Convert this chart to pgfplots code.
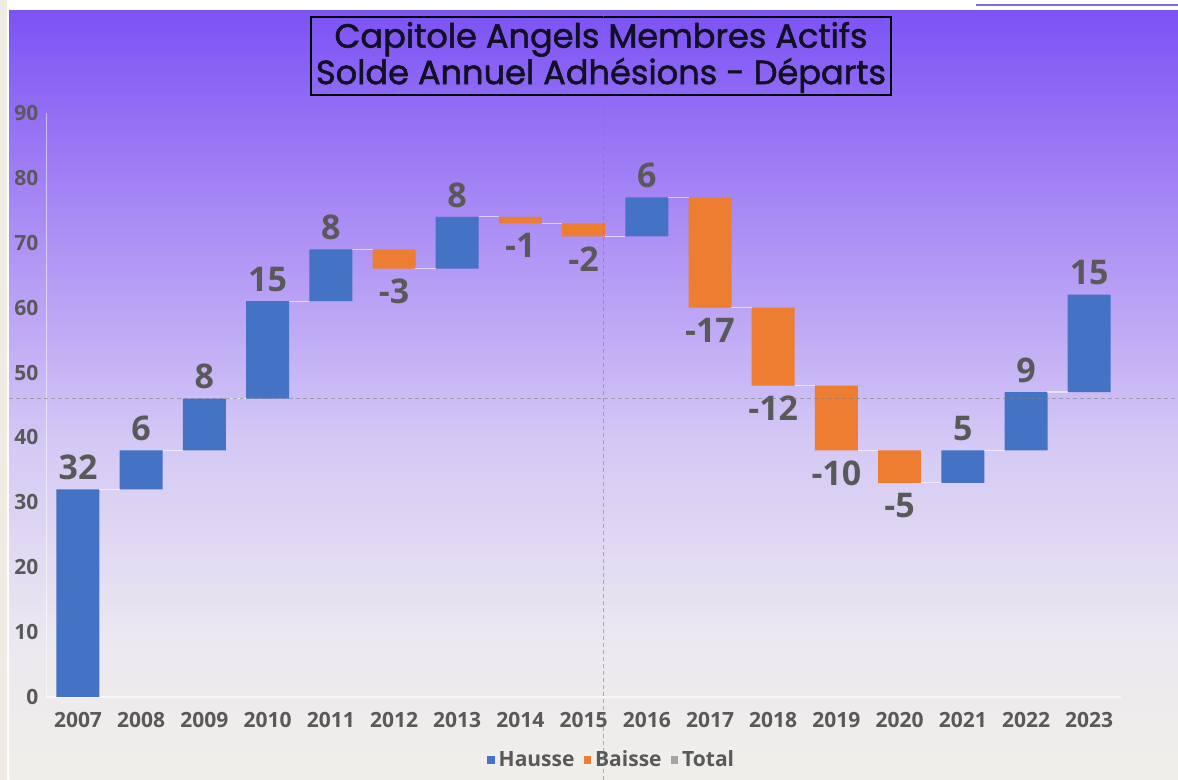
\documentclass[border=0pt]{standalone}
\usepackage{fontspec}
\setmainfont{Open Sans}
\newfontfamily\titlefont{Poppins}[FakeBold=1.6]
\usepackage{pgfplots}
\pgfplotsset{compat=1.18}
\definecolor{cblue}{RGB}{68,114,196}
\definecolor{corange}{RGB}{237,125,49}
\definecolor{cgray}{RGB}{165,165,165}
\definecolor{ctext}{RGB}{89,89,89}
\definecolor{cbeige}{RGB}{240,236,228}
\definecolor{ctitle}{RGB}{18,16,36}
\pgfdeclareverticalshading{bgshade}{585pt}{%
 rgb(0pt)=(0.941,0.933,0.918);
 rgb(10pt)=(0.941,0.933,0.918);
 rgb(70pt)=(0.925,0.910,0.941);
 rgb(170pt)=(0.831,0.784,0.961);
 rgb(280pt)=(0.667,0.549,0.961);
 rgb(370pt)=(0.510,0.353,0.961);
 rgb(385pt)=(0.490,0.322,0.961)}

\pgfplotstableread{
x base up down
0 0 32 0
1 32 6 0
2 38 8 0
3 46 15 0
4 61 8 0
5 66 0 3
6 66 8 0
7 73 0 1
8 71 0 2
9 71 6 0
10 60 0 17
11 48 0 12
12 38 0 10
13 33 0 5
14 33 5 0
15 38 9 0
16 47 15 0
}\wfdata

\pgfplotstableread{
x y lab
0 32 32
1 38 6
2 46 8
3 61 15
4 69 8
6 74 8
9 77 6
14 38 5
15 47 9
16 62 15
}\poslab

\pgfplotstableread{
x y lab
5 66 -3
7 73 -1
8 71 -2
10 60 -17
11 48 -12
12 38 -10
13 33 -5
}\neglab

\pgfplotsset{sqleg/.style={legend image code/.code={\fill[##1] (0pt,-1.9pt) rectangle (3.8pt,1.9pt);}}}

\begin{document}
\begin{tikzpicture}
\useasboundingbox (0,0) rectangle (589pt,390pt);
\fill[white] (0,0) rectangle (589pt,390pt);
\fill[cbeige] (0,0) rectangle (3.6pt,390pt);
\node[inner sep=0pt, anchor=south west] at (4.5pt,0pt) {\pgfuseshading{bgshade}};
\draw[line width=1.2pt, color={rgb,255:red,120;green,110;blue,235}] (488pt,387.6pt) -- (589pt,387.6pt);

\begin{axis}[
  at={(23.2pt,41.5pt)}, anchor=south west,
  scale only axis, width=537.2pt, height=292pt,
  xmin=-0.5, xmax=16.5, ymin=0, ymax=90,
  axis lines*=left,
  axis line style={draw=white, opacity=0.55, line width=0.6pt},
  xtick={0,...,16},
  xticklabels={2007,2008,2009,2010,2011,2012,2013,2014,2015,2016,2017,2018,2019,2020,2021,2022,2023},
  ytick={0,10,...,90},
  /pgf/number format/assume math mode=true,
  major tick length=0pt,
  tick style={draw=none},
  ticklabel style={font=\fontsize{10.5}{12}\selectfont\bfseries, text=ctext},
  xticklabel style={yshift=-4.3pt},
  yticklabel style={xshift=-0.5pt},
  legend style={at={(0.527,-0.108)}, anchor=center, draw=none, fill=none,
    legend columns=3, font=\fontsize{10.5}{12}\selectfont\bfseries, text=ctext,
    /tikz/every even column/.append style={column sep=2.5pt},
    legend cell align=left, inner sep=0pt},
  clip=false,
]
\addplot[ybar stacked, bar width=21.5pt, draw=none, fill=none, forget plot] table[x=x,y=base]{\wfdata};
\addplot[ybar stacked, bar width=21.5pt, draw=none, fill=cblue, sqleg] table[x=x,y=up]{\wfdata};
\addlegendentry{Hausse}
\addplot[ybar stacked, bar width=21.5pt, draw=none, fill=corange, sqleg] table[x=x,y=down]{\wfdata};
\addlegendentry{Baisse}
\addlegendimage{fill=cgray, draw=none, sqleg}
\addlegendentry{Total}

\addplot[forget plot, sharp plot, mark=none, draw=white, opacity=0.6, line width=0.6pt, unbounded coords=jump] coordinates {
(0.34,32) (0.66,32) (nan,nan)
(1.34,38) (1.66,38) (nan,nan)
(2.34,46) (2.66,46) (nan,nan)
(3.34,61) (3.66,61) (nan,nan)
(4.34,69) (4.66,69) (nan,nan)
(5.34,66) (5.66,66) (nan,nan)
(6.34,74) (6.66,74) (nan,nan)
(7.34,73) (7.66,73) (nan,nan)
(8.34,71) (8.66,71) (nan,nan)
(9.34,77) (9.66,77) (nan,nan)
(10.34,60) (10.66,60) (nan,nan)
(11.34,48) (11.66,48) (nan,nan)
(12.34,38) (12.66,38) (nan,nan)
(13.34,33) (13.66,33) (nan,nan)
(14.34,38) (14.66,38) (nan,nan)
(15.34,47) (15.66,47)
};

\addplot[forget plot, sharp plot, draw=none, mark=none,
  nodes near coords, point meta=explicit symbolic,
  every node near coord/.style={anchor=south, inner sep=4.5pt, text=ctext,
    font=\fontsize{17}{20}\selectfont\bfseries}]
  table[x=x, y=y, meta=lab]{\poslab};
\addplot[forget plot, sharp plot, draw=none, mark=none,
  nodes near coords, point meta=explicit symbolic,
  every node near coord/.style={anchor=north, inner sep=5pt, text=ctext,
    font=\fontsize{17}{20}\selectfont\bfseries}]
  table[x=x, y=y, meta=lab]{\neglab};
\end{axis}

\draw[black, line width=0.7pt] (155.5pt,342.5pt) rectangle (445.5pt,381.5pt);
\node[text=ctitle, font=\titlefont\fontsize{16.8}{20}\selectfont] at (300.5pt,370.3pt) {Capitole Angels Membres Actifs};
\node[text=ctitle, font=\titlefont\fontsize{16.8}{20}\selectfont] at (300.5pt,352.3pt) {Solde Annuel Adhésions - Départs};

\draw[gray, opacity=0.6, line width=0.4pt, dash pattern=on 2pt off 1.5pt] (301.5pt,0pt) -- (301.5pt,385pt);
\draw[gray, opacity=0.6, line width=0.4pt, dash pattern=on 2pt off 1.5pt] (4.5pt,191pt) -- (589pt,191pt);
\end{tikzpicture}
\end{document}
